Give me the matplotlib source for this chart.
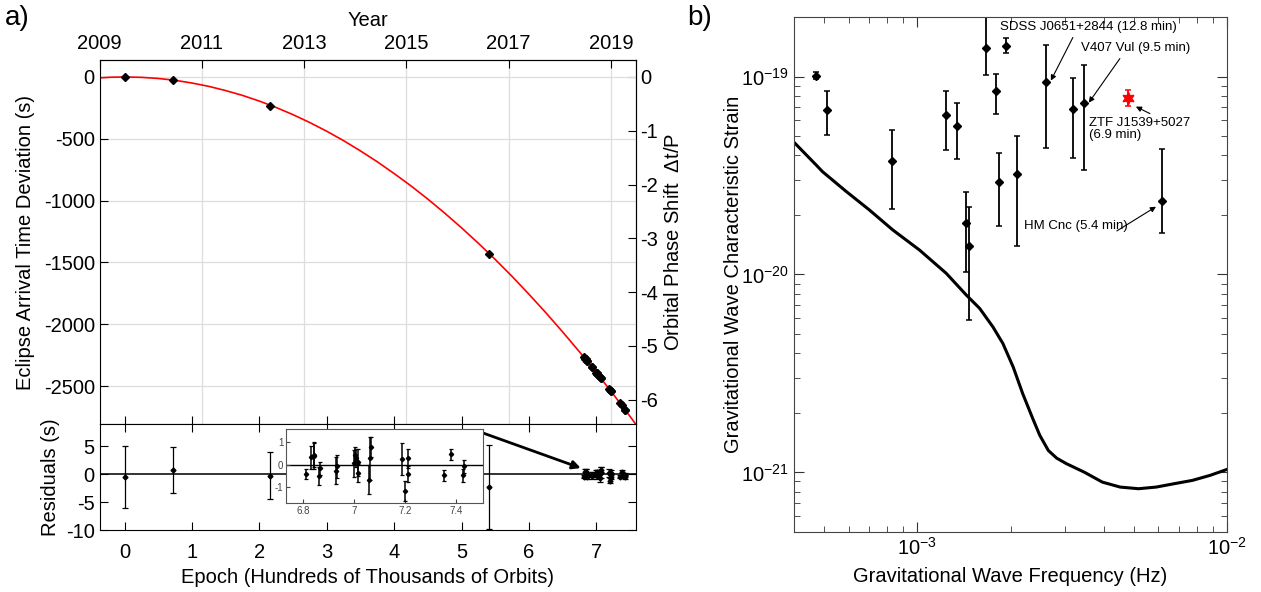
import matplotlib
matplotlib.use("Agg")
import matplotlib.pyplot as plt
import numpy as np
from matplotlib.ticker import NullFormatter

plt.rcParams['font.family'] = ['Liberation Sans', 'DejaVu Sans']
plt.rcParams['mathtext.fontset'] = 'custom'
plt.rcParams['mathtext.rm'] = 'Liberation Sans'
plt.rcParams['mathtext.it'] = 'Liberation Sans:italic'
plt.rcParams['mathtext.default'] = 'regular'
plt.rcParams['axes.unicode_minus'] = False

# ---- panel a: eclipse timing ----
# early epochs (hundreds of thousands of orbits)
epoch_early = [0.0, 0.715, 2.16, 5.415]
dev_early = [0, -27, -235, -1432]
res_early = [-0.5, 0.75, -0.3, -2.3]
err_early = [5.6, 4.2, 4.2, 7.6]

# recent cluster of epochs
epoch_recent = [6.813, 6.833, 6.841, 6.843, 6.863, 6.867, 6.929, 6.932,
                7.001, 7.004, 7.008, 7.017, 7.017, 7.057, 7.063, 7.067,
                7.188, 7.199, 7.212, 7.212, 7.354, 7.379, 7.429, 7.432]
dev_recent = [-2265, -2278, -2284, -2285, -2298, -2301, -2343, -2345,
              -2392, -2394, -2397, -2403, -2403, -2430, -2434, -2437,
              -2521, -2529, -2538, -2538, -2639, -2657, -2693, -2695]
res_recent = [-0.41, 0.34, 0.40, 0.44, -0.51, -0.15, -0.25, -0.07,
              0.07, 0.44, 0.29, 0.12, -0.37, -0.66, 0.29, 0.81,
              0.26, -1.15, 0.29, -0.41, -0.47, 0.47, -0.47, -0.07]
err_recent = [0.24, 0.52, 0.60, 0.55, 0.40, 0.30, 0.60, 0.50,
              0.60, 0.35, 0.40, 0.60, 0.40, 0.65, 0.95, 0.45,
              0.73, 0.44, 0.43, 0.37, 0.25, 0.26, 0.30, 0.30]

# red model curve
curve_epoch = [-0.4, -0.2, 0.0, 0.25, 0.5, 0.75, 1.0, 1.25, 1.5, 1.75, 2.0,
               2.25, 2.5, 2.75, 3.0, 3.25, 3.5, 3.75, 4.0, 4.25, 4.5, 4.75,
               5.0, 5.25, 5.5, 5.75, 6.0, 6.25, 6.5, 6.75, 7.0, 7.25, 7.5, 7.6]
curve_dev = [-8, -2, 0, -3, -12, -27, -49, -76, -110, -149, -195,
             -247, -305, -369, -439, -515, -598, -686, -781, -881, -988, -1101,
             -1220, -1345, -1476, -1613, -1757, -1906, -2062, -2223, -2391,
             -2565, -2745, -2819]

year_ticks = [2009, 2011, 2013, 2015, 2017, 2019]
epoch_ticks = [0, 1, 2, 3, 4, 5, 6, 7]
dev_ticks = [0, -500, -1000, -1500, -2000, -2500]
phase_ticks = [0, -1, -2, -3, -4, -5, -6]
res_ticks = [5, 0, -5, -10]
inset_xticks = [6.8, 7.0, 7.2, 7.4]
inset_yticks = [1, 0, -1]

YEAR0 = 2009.487   # year at epoch 0
YR_PER_EPOCH = 1.318
SEC_PER_PHASE = 435.0

# ---- panel b: gravitational wave strain ----
lisa_f = [3.975e-4, 4.71e-4, 4.94e-4, 5.89e-4, 7.00e-4, 8.33e-4, 1.016e-3,
          1.24e-3, 1.44e-3, 1.59e-3, 1.754e-3, 1.89e-3, 2.04e-3, 2.19e-3,
          2.36e-3, 2.486e-3, 2.65e-3, 2.82e-3, 3.03e-3, 3.46e-3, 3.96e-3,
          4.52e-3, 5.18e-3, 5.91e-3, 6.76e-3, 7.73e-3, 8.82e-3, 1.0e-2]
lisa_h = [4.70e-20, 3.58e-20, 3.31e-20, 2.63e-20, 2.12e-20, 1.68e-20,
          1.33e-20, 1.014e-20, 7.87e-21, 6.74e-21, 5.44e-21, 4.48e-21,
          3.41e-21, 2.50e-21, 1.87e-21, 1.54e-21, 1.29e-21, 1.18e-21,
          1.107e-21, 1.003e-21, 8.93e-22, 8.43e-22, 8.27e-22, 8.43e-22,
          8.77e-22, 9.11e-22, 9.66e-22, 1.035e-21]

src_f = [4.71e-4, 5.11e-4, 8.30e-4, 1.240e-3, 1.345e-3, 1.44e-3, 1.468e-3,
         1.67e-3, 1.80e-3, 1.83e-3, 1.93e-3, 2.10e-3, 2.60e-3, 3.18e-3,
         3.46e-3, 6.15e-3]
src_h = [1.01e-19, 6.81e-20, 3.76e-20, 6.42e-20, 5.60e-20, 1.82e-20,
         1.39e-20, 1.39e-19, 8.43e-20, 2.93e-20, 1.42e-19, 3.21e-20,
         9.36e-20, 6.86e-20, 7.36e-20, 2.34e-20]
src_hi = [1.05e-19, 8.43e-20, 5.39e-20, 8.49e-20, 7.36e-20, 2.61e-20,
          2.19e-20, 2.0e-19, 1.035e-19, 4.12e-20, 1.57e-19, 5.02e-20,
          1.44e-19, 9.85e-20, 1.14e-19, 4.31e-20]
src_lo = [0.97e-19, 5.08e-20, 2.15e-20, 4.27e-20, 3.83e-20, 1.03e-20,
          5.89e-21, 1.02e-19, 6.5e-20, 1.76e-20, 1.32e-19, 1.39e-20,
          4.36e-20, 3.90e-20, 3.38e-20, 1.62e-20]

ztf_f = [4.78e-3]
ztf_h = [7.80e-20]
ztf_hi = [8.52e-20]
ztf_lo = [7.08e-20]

FS = 14.5
fig = plt.figure(figsize=(12.61, 5.92), dpi=100)

ax = fig.add_axes([0.079, 0.2838, 0.4254, 0.6148])
axr = fig.add_axes([0.079, 0.1047, 0.4254, 0.1791], sharex=ax)

# year grid lines
for yr in year_ticks:
    ax.axvline((yr - YEAR0) / YR_PER_EPOCH, color='#dddddd', lw=0.9, zorder=0)
ax.yaxis.grid(True, color='#dddddd', lw=0.9)
ax.set_axisbelow(True)

ax.plot(curve_epoch, curve_dev, color='red', lw=1.2, zorder=2)
ax.errorbar(epoch_early + epoch_recent, dev_early + dev_recent,
            yerr=err_early + err_recent, fmt='D', ms=4, color='k',
            elinewidth=1, capsize=0, zorder=3)
ax.set_xlim(-0.37, 7.59)
ax.set_ylim(-2807, 137)
ax.set_yticks(dev_ticks)
ax.set_ylabel('Eclipse Arrival Time Deviation (s)', fontsize=FS, labelpad=6)
ax.tick_params(axis='both', direction='in', labelsize=FS, length=6,
               labelbottom=False)
ax.set_xticks(epoch_ticks)

top = ax.secondary_xaxis('top', functions=(lambda e: YEAR0 + YR_PER_EPOCH * e,
                                           lambda y: (y - YEAR0) / YR_PER_EPOCH))
top.set_xticks(year_ticks)
top.tick_params(direction='in', labelsize=FS, length=6, pad=5)
top.set_xlabel('Year', fontsize=FS, labelpad=6)

right = ax.secondary_yaxis('right', functions=(lambda d: d / SEC_PER_PHASE,
                                               lambda p: p * SEC_PER_PHASE))
right.set_yticks(phase_ticks)
right.tick_params(direction='in', labelsize=FS, length=6, pad=3)
right.set_ylabel(r'Orbital Phase Shift  $\Delta$t/P', fontsize=FS, labelpad=4)

# residuals
axr.axhline(0, color='#333333', lw=1.4, zorder=1)
axr.errorbar(epoch_early + epoch_recent, res_early + res_recent,
             yerr=err_early + err_recent, fmt='D', ms=2.5, color='k',
             elinewidth=0.9, capsize=2, capthick=0.9, zorder=3)
axr.set_ylim(-10, 9)
axr.set_yticks(res_ticks)
axr.set_xticks(epoch_ticks)
axr.tick_params(axis='both', direction='in', labelsize=FS, length=6,
                top=True, right=True)
axr.tick_params(axis='x', pad=9)
axr.set_ylabel('Residuals (s)', fontsize=FS, labelpad=4)
axr.set_xlabel('Epoch (Hundreds of Thousands of Orbits)', fontsize=FS,
               labelpad=5)

# inset zoom of the recent cluster
axi = fig.add_axes([0.2268, 0.1503, 0.1562, 0.125])
axi.axhline(0, color='k', lw=1, zorder=1)
axi.errorbar(epoch_recent, res_recent, yerr=err_recent, fmt='D', ms=2.2,
             color='k', elinewidth=1.1, capsize=1.5, capthick=0.9, zorder=3)
axi.set_xlim(6.733, 7.506)
axi.set_ylim(-1.7, 1.6)
axi.set_xticks(inset_xticks)
axi.set_xticklabels(['6.8', '7', '7.2', '7.4'])
axi.set_yticks(inset_yticks)
axi.tick_params(direction='in', labelsize=7, length=3, colors='#444444',
                pad=2)
for s in axi.spines.values():
    s.set_color('#555555')

axr.annotate('', xy=(6.77, 1.1), xycoords='data',
             xytext=(0.383, 0.2686), textcoords='figure fraction',
             arrowprops=dict(arrowstyle='-|>', lw=2, color='k',
                             mutation_scale=12, shrinkA=0, shrinkB=0))

# ---- panel b ----
axb = fig.add_axes([0.6297, 0.1014, 0.3433, 0.8699])
axb.set_xscale('log')
axb.set_yscale('log')
axb.plot(lisa_f, lisa_h, color='k', lw=2.2, solid_joinstyle='round')
src_f_arr = np.array(src_f)
src_h_arr = np.array(src_h)
yerr = [src_h_arr - np.array(src_lo), np.array(src_hi) - src_h_arr]
axb.errorbar(src_f, src_h, yerr=yerr, fmt='D', ms=4.5, color='k',
             elinewidth=1.3, capsize=2, capthick=1.1)
ztf_err = [np.array(ztf_h) - np.array(ztf_lo), np.array(ztf_hi) - np.array(ztf_h)]
axb.errorbar(ztf_f, ztf_h, yerr=ztf_err, fmt='none', ecolor='red',
             elinewidth=1.3, capsize=2, capthick=1.1)
axb.plot(ztf_f, ztf_h, marker=(6, 1, 0), ms=9, color='red', ls='none')
axb.set_xlim(4e-4, 1e-2)
axb.set_ylim(5e-22, 2e-19)
axb.xaxis.set_minor_formatter(NullFormatter())
axb.yaxis.set_minor_formatter(NullFormatter())
axb.tick_params(which='both', direction='in', top=True, right=True,
                labelsize=FS, colors='#333333', labelcolor='k')
axb.tick_params(which='major', length=7)
axb.tick_params(which='minor', length=4)
for s in axb.spines.values():
    s.set_color('#444444')
axb.set_xlabel('Gravitational Wave Frequency (Hz)', fontsize=FS, labelpad=6)
axb.set_ylabel('Gravitational Wave Characteristic Strain', fontsize=FS,
               labelpad=-1)

ann_fs = 9.5
arrow_kw = dict(arrowstyle='-|>', lw=0.8, color='k', mutation_scale=8,
                shrinkA=0, shrinkB=0)
axb.text(3.56e-3, 1.79e-19, 'SDSS J0651+2844 (12.8 min)', fontsize=ann_fs,
         ha='center', va='center')
axb.annotate('', xy=(2.70e-3, 9.54e-20), xytext=(3.18e-3, 1.576e-19),
             arrowprops=arrow_kw)
axb.text(5.08e-3, 1.387e-19, 'V407 Vul (9.5 min)', fontsize=ann_fs,
         ha='center', va='center')
axb.annotate('', xy=(3.58e-3, 7.38e-20), xytext=(4.51e-3, 1.233e-19),
             arrowprops=arrow_kw)
axb.text(3.58e-3, 5.42e-20, 'ZTF J1539+5027\n(6.9 min)', fontsize=ann_fs,
         ha='left', va='center', linespacing=1.0)
axb.annotate('', xy=(5.08e-3, 7.05e-20), xytext=(5.64e-3, 6.50e-20),
             arrowprops=arrow_kw)
axb.text(3.25e-3, 1.76e-20, 'HM Cnc (5.4 min)', fontsize=ann_fs,
         ha='center', va='center')
axb.annotate('', xy=(5.90e-3, 2.20e-20), xytext=(4.41e-3, 1.66e-20),
             arrowprops=arrow_kw)

fig.text(0.0135, 0.97, 'a)', fontsize=20, ha='center', va='center')
fig.text(0.555, 0.97, 'b)', fontsize=20, ha='center', va='center')

fig.savefig('out.png', dpi=100)
